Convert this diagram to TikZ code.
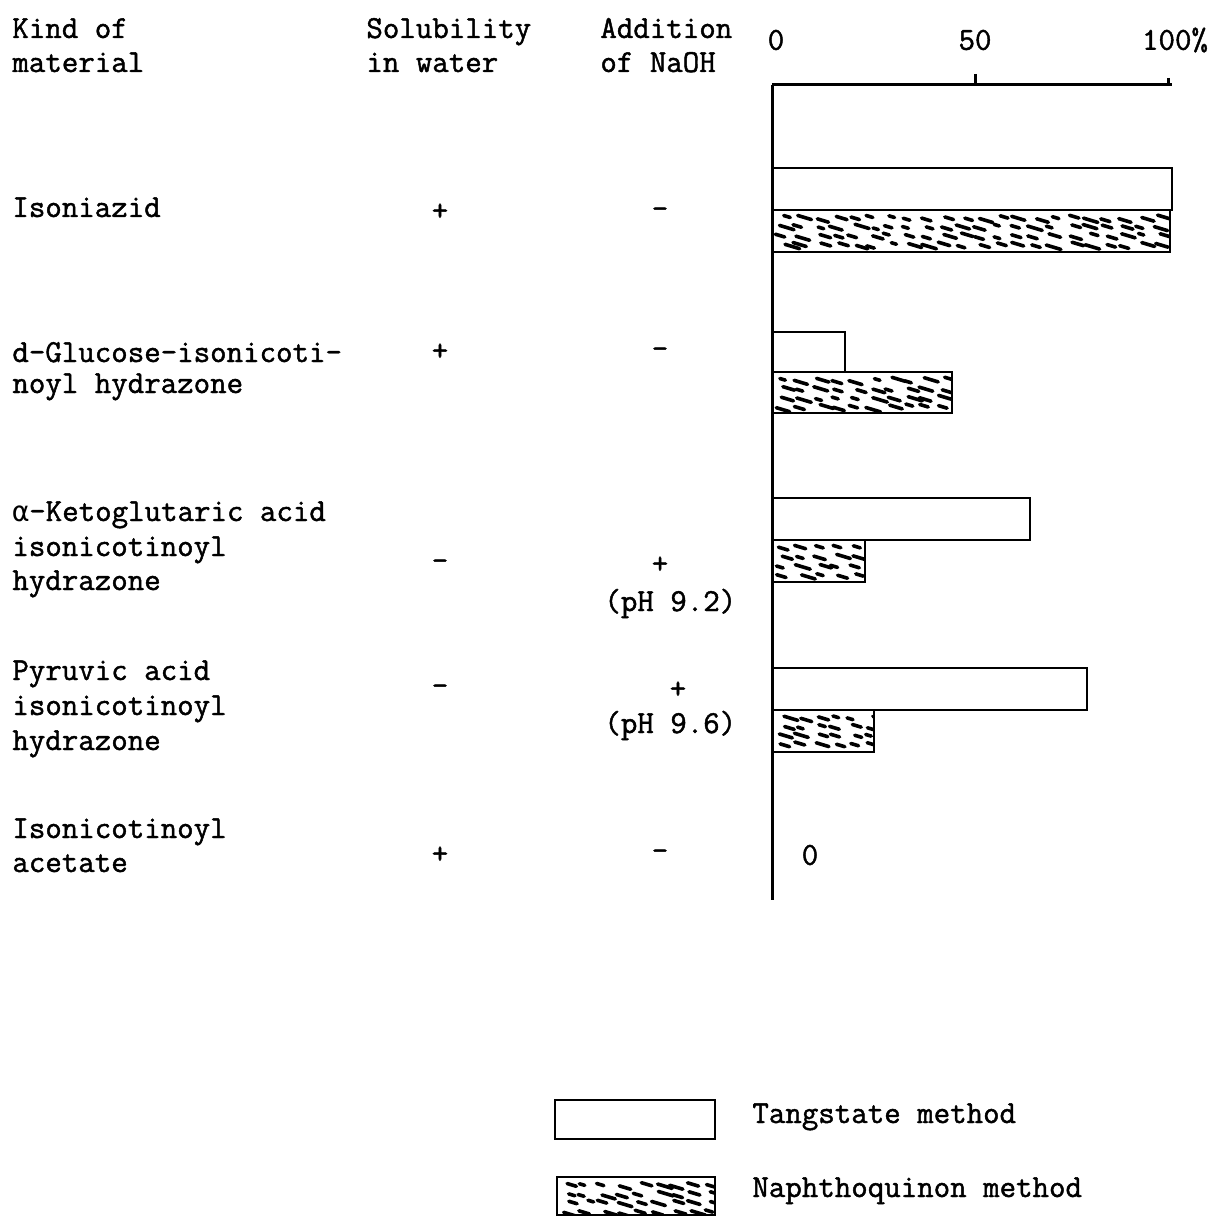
\documentclass[tikz,border=0pt]{standalone}
\usepackage{fontspec}
\newfontfamily\tw{Latin Modern Mono}[FakeBold=1.4]
\newfontfamily\gr{DejaVu Sans Mono}
\newcommand\hatchbar[4]{%
  \begin{scope}
    \clip (#1,#2) rectangle (#3,#4);
    \pgfmathtruncatemacro\hbrows{((#4)-(#2))/9}
    \pgfmathtruncatemacro\hbcols{((#3)-(#1))/18}
    \foreach \r in {1,...,\hbrows} {
      \foreach \c in {0,...,\hbcols} {
        \pgfmathsetmacro\hx{#1+3+\c*18+rnd*10}
        \pgfmathsetmacro\hy{#2+\r*9-4+rnd*4}
        \pgfmathsetmacro\hl{5+rnd*10}
        \draw[hatchdash] (\hx,\hy) -- ++(\hl,\hl*0.3);
      }
    }
  \end{scope}}
\begin{document}
\begin{tikzpicture}[x=0.5pt,y=-0.5pt,
  txt/.style={font=\tw\fontsize{16pt}{17pt}\selectfont, inner sep=0pt, anchor=base west},
  sym/.style={font=\tw\fontsize{16pt}{17pt}\selectfont, inner sep=0pt, anchor=center},
  axisline/.style={line width=1.5pt},
  barline/.style={line width=1.4pt},
  hatchdash/.style={line width=1.8pt, line cap=round}]
\pgfmathsetseed{7}
\useasboundingbox (0,0) rectangle (1214,1219);
% headers
\node[txt] (h1a) at (12,38) {Kind of};
\node[txt] (h1b) at (12,72) {material};
\node[txt] (h2a) at (366,38) {Solubility};
\node[txt] (h2b) at (366,72) {in water};
\node[txt] (h3a) at (600,38) {Addition};
\node[txt] (h3b) at (600,72) {of NaOH};
% axis labels
\node[sym] (a0) at (776,40) {0};
\node[sym] (a50) at (975,40) {50};
\node[sym] (a100) at (1175,40) {100\%};
% axis
\coordinate (o) at (772,85);
\coordinate (xe) at (1172,85);
\coordinate (ye) at (772,900);
\coordinate (t50) at (975,74);
\coordinate (t50b) at (975,85);
\coordinate (t100) at (1168,78);
\coordinate (t100b) at (1168,85);
\draw[axisline] (o) -- (xe);
\draw[axisline] (o) -- (ye);
\draw[axisline] (t50) -- (t50b);
\draw[axisline] (t100) -- (t100b);
% row 1: Isoniazid
\node[txt] (m1) at (12,217) {Isoniazid};
\node[sym] (s1) at (440,212) {+};
\node[sym] (n1) at (660,213) {-};
\hatchbar{772}{210}{1170}{252}
\draw[barline] (772,168) rectangle (1172,210);
\draw[barline] (772,210) rectangle (1170,252);
% row 2
\node[txt] (m2a) at (12,362) {d-Glucose-isonicoti-};
\node[txt] (m2b) at (12,393) {noyl hydrazone};
\node[sym] (s2) at (440,352) {+};
\node[sym] (n2) at (660,353) {-};
\hatchbar{772}{372}{952}{413}
\draw[barline] (772,332) rectangle (845,372);
\draw[barline] (772,372) rectangle (952,413);
% row 3
\node[txt] (m3a) at (12,521) {{\gr\fontsize{14pt}{17pt}\selectfont α}-Ketoglutaric acid};
\node[txt] (m3b) at (12,556) {isonicotinoyl};
\node[txt] (m3c) at (12,590) {hydrazone};
\node[sym] (s3) at (440,565) {-};
\node[sym] (n3a) at (660,565) {+};
\node[txt] (n3b) at (604,611) {(pH 9.2)};
\hatchbar{772}{540}{865}{582}
\draw[barline] (772,498) rectangle (1030,540);
\draw[barline] (772,540) rectangle (865,582);
% row 4
\node[txt] (m4a) at (12,680) {Pyruvic acid};
\node[txt] (m4b) at (12,715) {isonicotinoyl};
\node[txt] (m4c) at (12,750) {hydrazone};
\node[sym] (s4) at (440,690) {-};
\node[sym] (n4a) at (678,690) {+};
\node[txt] (n4b) at (604,733) {(pH 9.6)};
\hatchbar{772}{710}{874}{752}
\draw[barline] (772,668) rectangle (1087,710);
\draw[barline] (772,710) rectangle (874,752);
% row 5
\node[txt] (m5a) at (12,838) {Isonicotinoyl};
\node[txt] (m5b) at (12,872) {acetate};
\node[sym] (s5) at (440,855) {+};
\node[sym] (n5) at (660,855) {-};
\node[sym] (z5) at (810,855) {0};
% legend
\draw[barline] (555,1100) rectangle (715,1139);
\node[txt] (l1) at (752,1123) {Tangstate method};
\hatchbar{557}{1177}{715}{1215}
\draw[barline] (557,1177) rectangle (715,1215);
\node[txt] (l2) at (752,1197) {Naphthoquinon method};
\end{tikzpicture}
\end{document}
